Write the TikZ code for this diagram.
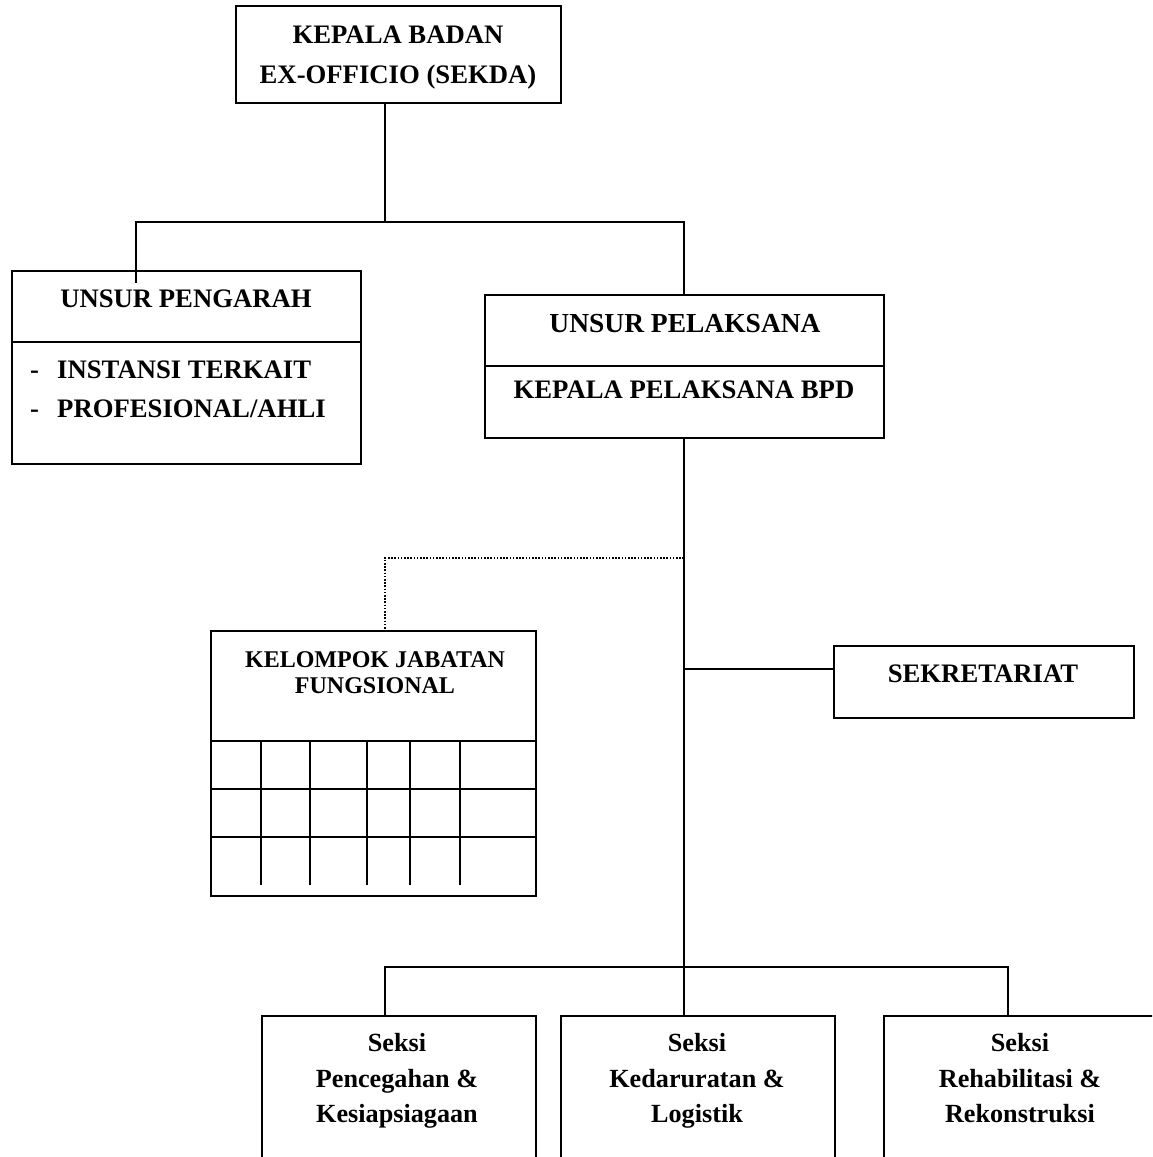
\documentclass[tikz,border=0pt]{standalone}
\usepackage{fontspec}
\setmainfont{Liberation Serif}
\begin{document}
\begin{tikzpicture}[x=1pt,y=-1pt,
  box/.style={draw, line width=1.6pt, rectangle, inner sep=0pt, anchor=north west},
  lbl/.style={font=\bfseries\fontsize{26.7}{26.7}\selectfont, inner sep=0pt, anchor=base},
  lblw/.style={lbl, anchor=base west},
  lbsk/.style={font=\bfseries\fontsize{26.2}{26.2}\selectfont, inner sep=0pt, anchor=base},
  lbls/.style={font=\bfseries\fontsize{24}{24}\selectfont, inner sep=0pt, anchor=base},
  conn/.style={line width=1.6pt},
  dots/.style={line width=1.8pt, dash pattern=on 1.6pt off 1.6pt},
  grid/.style={line width=1.6pt}]
\useasboundingbox (0,0) rectangle (1152,1157);
\clip (0,0) rectangle (1152,1157);

% top box
\node[box, minimum width=325pt, minimum height=97pt] (kb) at (235,5) {};
\node[lbl] (kbt1) at (398,43) {KEPALA BADAN};
\node[lbl] (kbt2) at (398,83) {EX-OFFICIO (SEKDA)};

% unsur pengarah
\node[box, minimum width=349pt, minimum height=193pt] (pg) at (11,270) {};
\draw[conn] (pg.west |- 0,342) -- (pg.east |- 0,342);
\node[lbl] (pgt) at (186,307) {UNSUR PENGARAH};
\node[lblw] (d1) at (30,378) {-};
\node[lblw] (pg1) at (57,378) {INSTANSI TERKAIT};
\node[lblw] (d2) at (30,417) {-};
\node[lblw] (pg2) at (57,417) {PROFESIONAL/AHLI};

% unsur pelaksana
\node[box, minimum width=399pt, minimum height=143pt] (up) at (484,294) {};
\draw[conn] (up.west |- 0,366) -- (up.east |- 0,366);
\node[lbl, font=\bfseries\fontsize{27.5}{27.5}\selectfont] (upt) at (685,332) {UNSUR PELAKSANA};
\node[lbl] (kpt) at (684,398) {KEPALA PELAKSANA BPD};

% top connectors
\coordinate (j1) at (385,222);
\coordinate (busL) at (136,222);
\coordinate (busR) at (684,222);
\coordinate (pend) at (136,283);
\draw[conn] (kb.south -| j1) -- (j1);
\draw[conn] (pend) -- (busL) -- (busR) -- (busR |- up.north);

% kelompok jabatan fungsional
\node[box, minimum width=325pt, minimum height=265pt] (kj) at (210,630) {};
\node[lbls] (kjt1) at (375,667) {KELOMPOK JABATAN};
\node[lbls] (kjt2) at (375,693) {FUNGSIONAL};
\foreach \yy in {741,789,837} \draw[grid] (kj.west |- 0,\yy) -- (kj.east |- 0,\yy);
\foreach \xx in {261,310,367,410,460} \draw[grid] (\xx,741) -- (\xx,885);

% sekretariat
\node[box, minimum width=300pt, minimum height=72pt] (sk) at (833,645) {};
\node[lbl] (skt) at (983,682) {SEKRETARIAT};

% main spine
\coordinate (spB) at (684,967);
\coordinate (dotJ) at (684,558);
\coordinate (dotL) at (385,558);
\coordinate (skJ) at (684,669);
\draw[conn] (up.south -| spB) -- (spB);
\draw[dots] (dotJ) -- (dotL) -- (dotL |- kj.north);
\draw[conn] (skJ) -- (skJ -| sk.west);

% bottom boxes
\node[box, minimum width=274pt, minimum height=200pt] (s1) at (261,1015) {};
\node[box, minimum width=274pt, minimum height=200pt] (s2) at (560,1015) {};
\node[box, minimum width=290pt, minimum height=200pt] (s3) at (883,1015) {};

\coordinate (b1) at (385,967);
\coordinate (b3) at (1008,967);
\draw[conn] (b1 |- s1.north) -- (b1) -- (b3) -- (b3 |- s3.north);
\draw[conn] (spB) -- (spB |- s2.north);

\node[lbsk] (s1a) at (397,1051) {Seksi};
\node[lbsk] (s1b) at (397,1087) {Pencegahan \&};
\node[lbsk] (s1c) at (397,1122) {Kesiapsiagaan};
\node[lbsk] (s2a) at (697,1051) {Seksi};
\node[lbsk] (s2b) at (697,1087) {Kedaruratan \&};
\node[lbsk] (s2c) at (697,1122) {Logistik};
\node[lbsk] (s3a) at (1020,1051) {Seksi};
\node[lbsk] (s3b) at (1020,1087) {Rehabilitasi \&};
\node[lbsk] (s3c) at (1020,1122) {Rekonstruksi};
\end{tikzpicture}
\end{document}
